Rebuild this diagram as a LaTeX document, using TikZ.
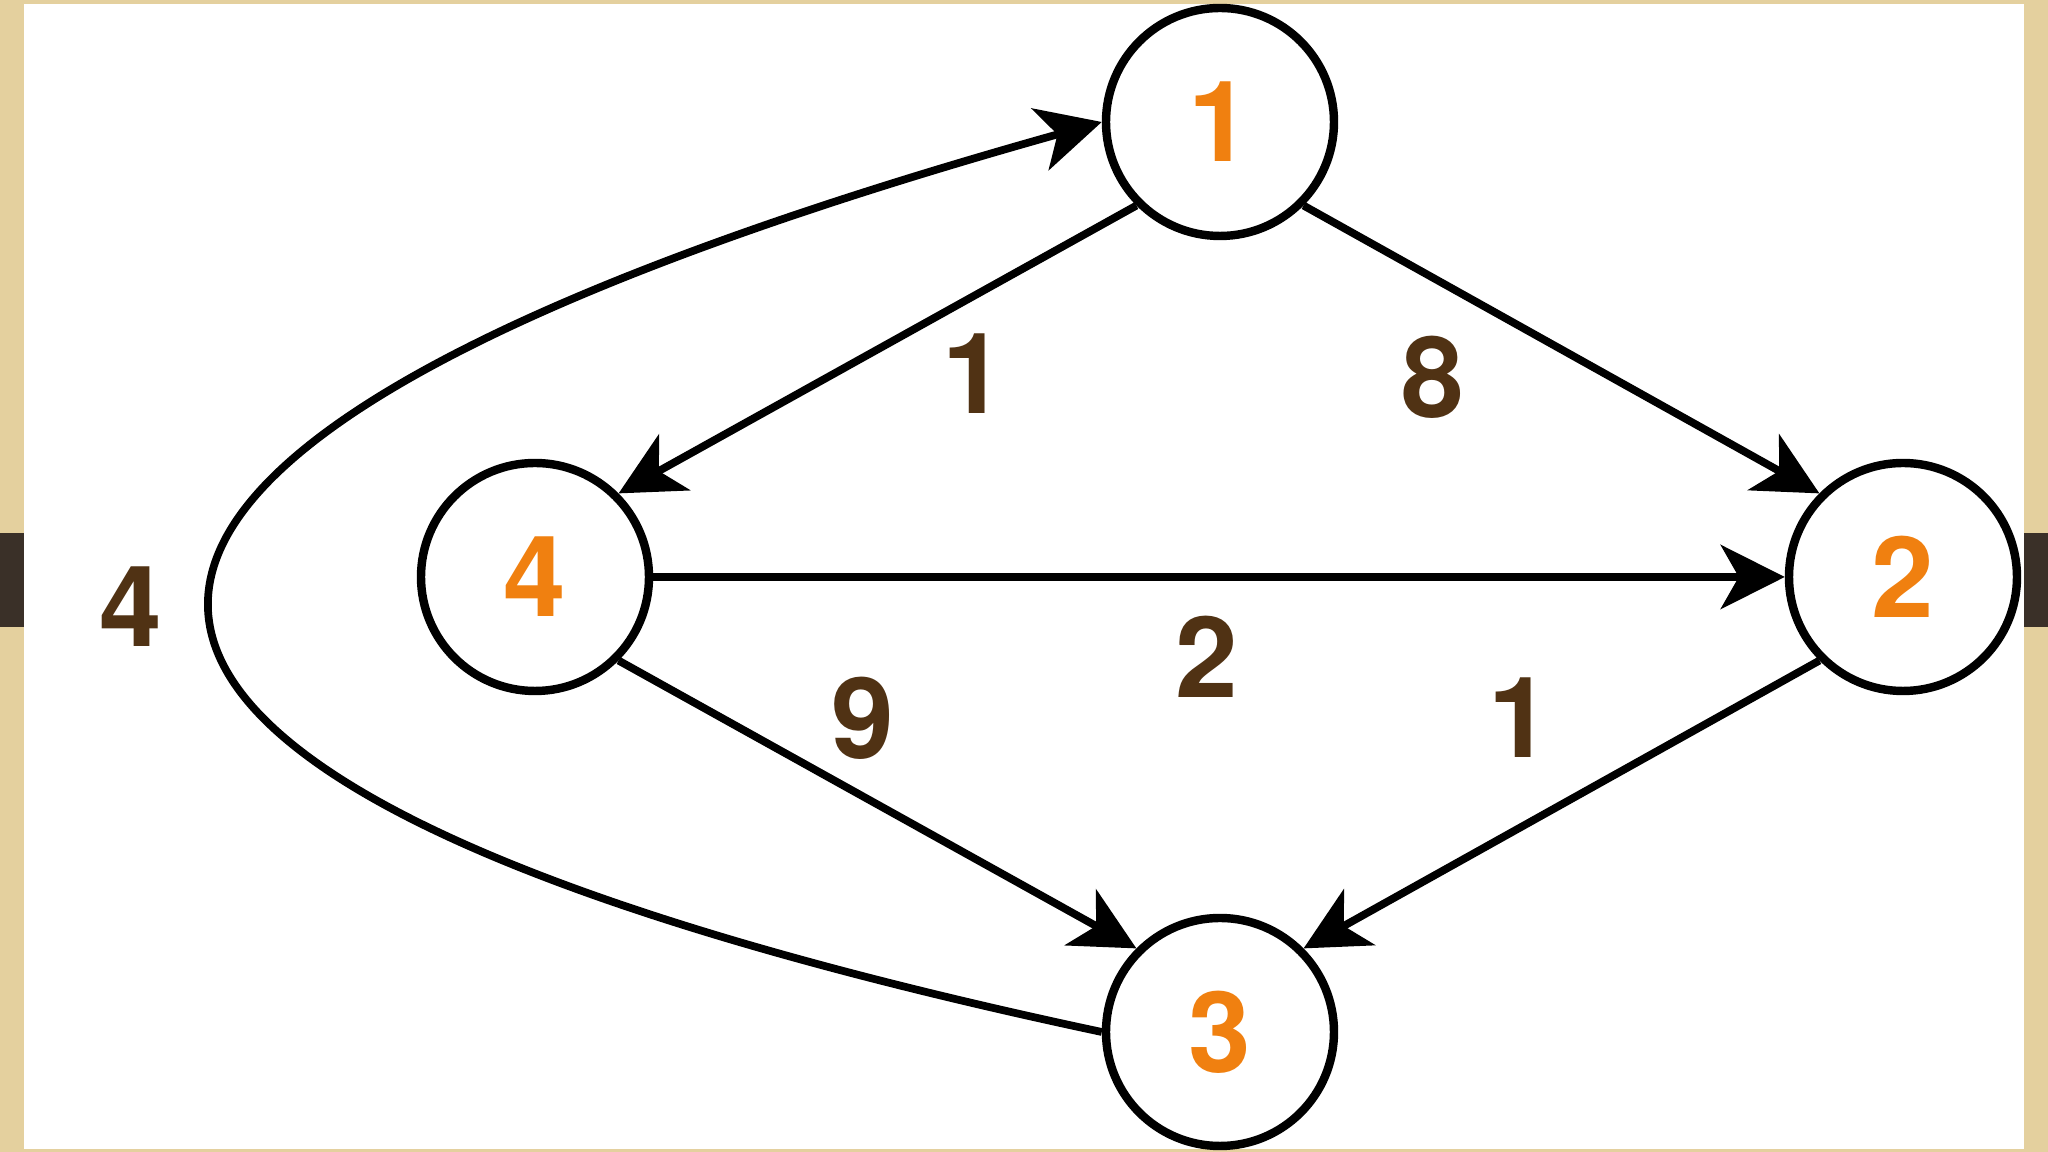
\documentclass[tikz,border=0pt]{standalone}
\usepackage{fontspec}
\newfontfamily\graphfont{TeX Gyre Heros}
\usetikzlibrary{arrows.meta}
\definecolor{nodeorange}{RGB}{240,128,16}
\definecolor{labelbrown}{RGB}{80,50,20}
\definecolor{framebeige}{RGB}{228,208,158}
\definecolor{framebar}{RGB}{58,48,40}
\tikzset{
	vertex/.style = {circle, draw, line width = 2.4pt, minimum size = 2.28cm, inner sep = 0pt, text = nodeorange, font = \graphfont\bfseries\fontsize{32}{32}\selectfont},
	weight/.style = {text = labelbrown, font = \graphfont\bfseries\fontsize{32}{32}\selectfont},
	edge/.style = {-{Stealth[length = 0.64cm, width = 0.64cm, inset = 0.18cm]}, line width = 2.2pt}
}
\begin{document}
\begin{tikzpicture}
	\useasboundingbox (0,0) rectangle (20.48,11.52);
	% frame
	\fill [framebeige] (0,0) rectangle (0.24,11.52);
	\fill [framebeige] (20.24,0) rectangle (20.48,11.52);
	\fill [framebeige] (0,11.48) rectangle (20.48,11.52);
	\fill [framebeige] (0,0) rectangle (20.48,0.03);
	\fill [framebar] (0,5.25) rectangle (0.24,6.19);
	\fill [framebar] (20.24,5.25) rectangle (20.48,6.19);
	% vertices
	\node [vertex] (n1) at (12.20,10.30) {1};
	\node [vertex] (n2) at (19.03,5.75) {2};
	\node [vertex] (n3) at (12.20,1.20) {3};
	\node [vertex] (n4) at (5.35,5.75) {4};
	% edges
	\draw [edge] (n1.225) -- (n4.45);
	\draw [edge] (n1.315) -- (n2.135);
	\draw [edge] (n4.east) -- (n2.west);
	\draw [edge] (n4.315) -- (n3.135);
	\draw [edge] (n2.225) -- (n3.45);
	\draw [edge] (n3.west) .. controls (-0.83,3.72) and (-0.83,6.98) .. (n1.west);
	% weights
	\node [weight] (w14) at (9.74,7.78) {1};
	\node [weight] (w12) at (14.33,7.75) {8};
	\node [weight] (w42) at (12.07,4.95) {2};
	\node [weight] (w43) at (8.63,4.34) {9};
	\node [weight] (w23) at (15.20,4.34) {1};
	\node [weight] (w31) at (1.31,5.45) {4};
\end{tikzpicture}
\end{document}
